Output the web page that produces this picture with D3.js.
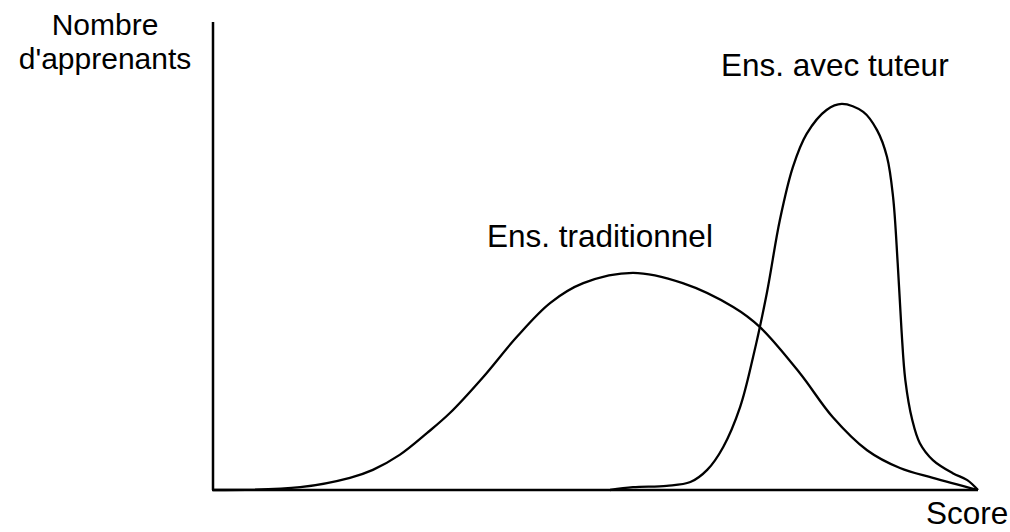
<!DOCTYPE html>
<html>
<head>
<meta charset="utf-8">
<script src="https://cdn.jsdelivr.net/npm/d3@7"></script>
<style>
  body { margin: 0; background: #fff; }
  text { font-family: "Liberation Sans", Arial, sans-serif; fill: #000; }
</style>
</head>
<body>
<script>
// traditional teaching curve (score, count)
var tradScore = [0, 11.4, 17.9, 20.9, 24.4, 28.0, 31.0, 35.3, 39.7, 44.1, 48.4, 54.9, 61.4, 68.0, 71.5, 76.7, 81.0, 85.5, 89.8, 94.1, 100];
var tradCount = [0, 0.6, 2.6, 4.3, 7.5, 12.2, 16.5, 24.1, 32.7, 40.0, 44.2, 46.4, 44.2, 39.1, 34.8, 25.0, 15.6, 8.5, 4.7, 2.6, 0];

// tutored teaching curve
var tutScore = [51.9, 54.9, 59.3, 62.4, 64.6, 66.7, 68.9, 70.6, 72.4, 74.1, 75.8, 77.6, 80.2, 82.2, 85.0, 86.8, 88.1, 88.9, 89.5, 90.0, 90.5, 91.4, 92.4, 94.1, 96.7, 98.6, 100];
var tutCount = [0, 0.6, 0.9, 1.7, 4.3, 9.2, 17.7, 28.4, 42.1, 57.7, 69.0, 76.1, 81.2, 82.5, 80.8, 76.9, 71.2, 62.6, 48.5, 34.2, 23.5, 15.0, 10.0, 6.4, 3.6, 2.1, 0];

var yTitle = ["Nombre", "d'apprenants"];
var xTitle = "Score";
var seriesLabels = ["Ens. traditionnel", "Ens. avec tuteur"];

var width = 1010, height = 532;
var svg = d3.select("body").append("svg")
	.attr("width", width)
	.attr("height", height);

var x = d3.scaleLinear().domain([0, 100]).range([213, 978]);
var y = d3.scaleLinear().domain([0, 100]).range([490, 22]);

// axes as plain lines
svg.append("line")
	.attr("x1", x(0)).attr("y1", y(0))
	.attr("x2", x(0)).attr("y2", y(100))
	.attr("stroke", "#000").attr("stroke-width", 2.5);
svg.append("line")
	.attr("x1", x(0) - 1).attr("y1", y(0))
	.attr("x2", x(100)).attr("y2", y(0))
	.attr("stroke", "#000").attr("stroke-width", 2.5);

var line = d3.line()
	.x(function(d){ return x(d[0]); })
	.y(function(d){ return y(d[1]); })
	.curve(d3.curveCatmullRom.alpha(0.5));

var trad = tradScore.map(function(s, i){ return [s, tradCount[i]]; });
var tut = tutScore.map(function(s, i){ return [s, tutCount[i]]; });

svg.selectAll("path.curve")
	.data([trad, tut])
	.enter().append("path")
	.attr("class", "curve")
	.attr("d", line)
	.attr("fill", "none")
	.attr("stroke", "#000")
	.attr("stroke-width", 2.3);

// labels
var fs = "31.5px";
var yt = svg.append("text")
	.attr("text-anchor", "middle").style("font-size", "30px");
yt.selectAll("tspan")
	.data(yTitle)
	.enter().append("tspan")
	.attr("x", 105)
	.attr("y", function(d, i){ return 35 + i * 34; })
	.text(function(d){ return d; });

svg.append("text").text(xTitle)
	.attr("x", 926).attr("y", 524)
	.style("font-size", fs);
svg.append("text").text(seriesLabels[0])
	.attr("x", 487).attr("y", 247)
	.style("font-size", fs);
svg.append("text").text(seriesLabels[1])
	.attr("x", 721).attr("y", 76)
	.style("font-size", fs);
</script>
</body>
</html>
